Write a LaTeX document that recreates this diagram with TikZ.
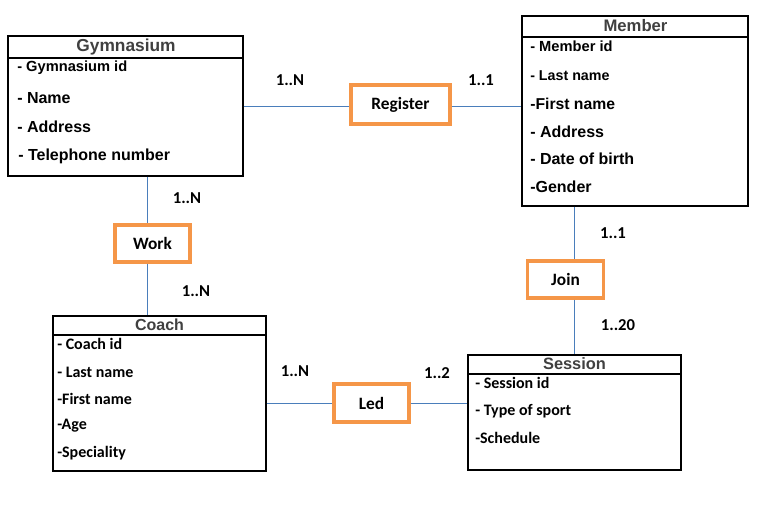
\documentclass[tikz,border=0pt]{standalone}
\usepackage{fontspec}
\setmainfont{Liberation Sans}
\newfontfamily\calib{Carlito}
\definecolor{conncol}{RGB}{74,126,187}
\definecolor{orng}{RGB}{245,150,72}
\definecolor{hdr}{RGB}{64,64,64}
\begin{document}
\begin{tikzpicture}[x=0.75pt,y=-0.75pt,
  entity/.style={draw=black,line width=0.8pt,inner sep=0pt,fill=white},
  relbox/.style={draw=orng,line width=2.3pt,inner sep=0pt,font=\calib\bfseries\fontsize{13}{15}\selectfont},
  hdrtxt/.style={text=hdr,font=\bfseries\fontsize{12.5}{15}\selectfont,inner sep=0pt},
  attrA/.style={anchor=west,inner sep=0pt,font=\bfseries\fontsize{12}{14}\selectfont},
  attrB/.style={anchor=west,inner sep=0pt,font=\calib\bfseries\fontsize{12}{14}\selectfont},
  card/.style={inner sep=0pt,font=\calib\bfseries\fontsize{12.5}{14}\selectfont},
  conn/.style={draw=conncol,line width=0.75pt}]
\useasboundingbox (0,0) rectangle (762,512);
\fill[white] (0,0) rectangle (762,512);

% Entities
\node[entity,minimum width=235*0.75pt,minimum height=140*0.75pt] (gym) at (125.5,106) {};
\draw[line width=0.8pt] (8,58) -- (243,58);
\node[hdrtxt,font=\bfseries\fontsize{13}{15}\selectfont] (gymh) at (126,47) {Gymnasium};
\node[attrA,font=\bfseries\fontsize{11}{14}\selectfont] (g1) at (17,68) {- Gymnasium id};
\node[attrA] (g2) at (17,98) {- Name};
\node[attrA] (g3) at (17,127) {- Address};
\node[attrA] (g4) at (18,156) {- Telephone number};

\node[entity,minimum width=226*0.75pt,minimum height=190*0.75pt] (mem) at (635,111) {};
\draw[line width=0.8pt] (522,37) -- (748,37);
\node[hdrtxt] (memh) at (635.5,26) {Member};
\node[attrA,font=\bfseries\fontsize{11}{14}\selectfont] (m1) at (530,46) {- Member id};
\node[attrA,font=\bfseries\fontsize{10.7}{14}\selectfont] (m2) at (530,76) {- Last name};
\node[attrA,font=\bfseries\fontsize{11.8}{14}\selectfont] (m3) at (530,104) {-First name};
\node[attrA] (m4) at (530,132) {- Address};
\node[attrA] (m5) at (530,159) {- Date of birth};
\node[attrA] (m6) at (530,187) {-Gender};

\node[entity,minimum width=213*0.75pt,minimum height=155*0.75pt] (coach) at (159.5,393.5) {};
\draw[line width=0.8pt] (53,335) -- (266,335);
\node[hdrtxt,font=\bfseries\fontsize{12}{15}\selectfont] (coachh) at (159.5,325) {Coach};
\node[attrB] (c1) at (57,344) {- Coach id};
\node[attrB] (c2) at (57,372) {- Last name};
\node[attrB] (c3) at (57,399) {-First name};
\node[attrB] (c4) at (57,426) {-Age};
\node[attrB] (c5) at (57,453) {-Speciality};

\node[entity,minimum width=213*0.75pt,minimum height=115*0.75pt] (sess) at (574.5,412.5) {};
\draw[line width=0.8pt] (468,374) -- (681,374);
\node[hdrtxt,font=\bfseries\fontsize{12.3}{15}\selectfont] (sessh) at (574.5,364) {Session};
\node[attrB] (s1) at (475,383) {- Session id};
\node[attrB] (s2) at (475,411) {- Type of sport};
\node[attrB] (s3) at (475,438) {-Schedule};

% Relationships
\node[relbox,minimum width=99*0.75pt,minimum height=39*0.75pt] (reg) at (400.5,104.5) {Register};
\node[relbox,minimum width=75*0.75pt,minimum height=37*0.75pt] (work) at (152.5,243.5) {Work};
\node[relbox,minimum width=76*0.75pt,minimum height=37*0.75pt] (join) at (565.5,279.5) {Join};
\node[relbox,minimum width=75*0.75pt,minimum height=38*0.75pt] (led) at (371.5,403) {Led};

% Connectors
\coordinate (wx) at (147,0);
\coordinate (jx) at (574,0);
\draw[conn] (gym.east) -- (gym.east -| reg.west);
\draw[conn] (reg.east |- gym.east) -- (mem.west |- gym.east);
\draw[conn] (gym.south -| wx) -- (work.north -| wx);
\draw[conn] (work.south -| wx) -- (coach.north -| wx);
\draw[conn] (mem.south -| jx) -- (join.north -| jx);
\draw[conn] (join.south -| jx) -- (sess.north -| jx);
\draw[conn] (coach.east |- led.west) -- (led.west);
\draw[conn] (led.east) -- (sess.west |- led.east);

% Cardinalities
\node[card] (k1) at (290,80) {1..N};
\node[card] (k2) at (481,80) {1..1};
\node[card] (k3) at (187,198) {1..N};
\node[card] (k4) at (196,291) {1..N};
\node[card] (k5) at (613,233) {1..1};
\node[card] (k6) at (618,325) {1..20};
\node[card] (k7) at (295,371) {1..N};
\node[card] (k8) at (437,373) {1..2};
\end{tikzpicture}
\end{document}
